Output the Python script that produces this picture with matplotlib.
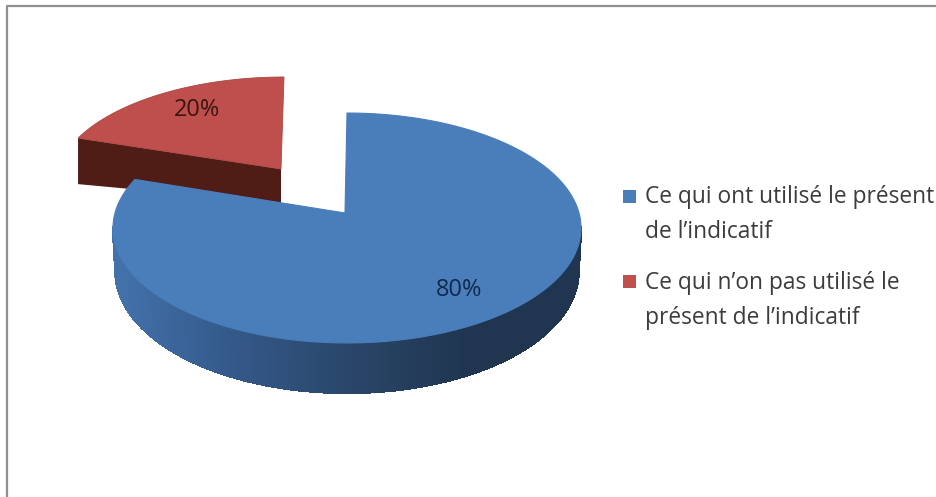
#!/usr/bin/env python3
"""Exploded 3D style pie: present de l'indicatif."""

import numpy as np
import matplotlib
matplotlib.use('Agg')
import matplotlib.pyplot as plt
from matplotlib.collections import PolyCollection
from matplotlib.colors import LinearSegmentedColormap
from matplotlib.patches import Polygon, Rectangle

# Data
labels = ['Ce qui ont utilisé le présent\nde l’indicatif',
          'Ce qui n’on pas utilisé le\nprésent de l’indicatif']
values = [80, 20]

plt.rcParams['font.family'] = ['Open Sans', 'DejaVu Sans']

BLUE = '#4a7ebb'
RED = '#bf4f4c'
MAROON = '#4f1c16'
side_cmap = LinearSegmentedColormap.from_list(
    'side', ['#4372ab', '#34598a', '#2a4669', '#203650', '#1f3550'])


def project(theta, cx, cy, rx, ry, lean=0.0):
    """Perspective ellipse, theta clockwise from the top, in pixels."""
    u, v = np.sin(theta), np.cos(theta)
    b = 0.1304
    x = cx + rx * u / (1 + b * v) + lean * v
    y = cy - ry * v / (1 + b * v)
    return x, y


fig = plt.figure(figsize=(9.36, 4.97), dpi=100)
ax = fig.add_axes([0, 0, 1, 1])
ax.set_xlim(0, 936)
ax.set_ylim(497, 0)
ax.axis('off')

# Frame
ax.plot([6.5, 6.5, 936], [497, 5.5, 5.5], color='#8f8f8f', lw=1.6, zorder=1)

sweep = 2 * np.pi * values[0] / sum(values)

# Red slice, pulled out
red_pars = dict(cx=281, cy=169, rx=223, ry=104, lean=3)
th_red = np.linspace(sweep, 2 * np.pi, 60)
rx_pts, ry_pts = project(th_red, **red_pars)
corner_x, corner_y = rx_pts[0], ry_pts[0]
ax.add_patch(Polygon([[281, 169], [corner_x, corner_y], [corner_x, corner_y + 46], [281, 203]],
                     closed=True, fc=MAROON, ec='none', zorder=2))
ax.add_patch(Polygon(np.column_stack([np.r_[281, rx_pts], np.r_[169, ry_pts]]),
                     closed=True, fc=RED, ec='#a84643', lw=0.6, zorder=3))

# Blue slice, side wall first (front part of the rim only)
blue_pars = dict(cx=347, cy=213, rx=232, ry=113)
th_blue = np.linspace(0, sweep, 720)
bx, by = project(th_blue, **blue_pars)
depth = 42 - 8 * np.cos(th_blue)
lx = blue_pars['cx'] + (bx - blue_pars['cx']) * 0.99
ly = by + depth
front = np.cos(th_blue) < -0.12
quads = [[(bx[i], by[i]), (bx[i + 1], by[i + 1]), (lx[i + 1], ly[i + 1]), (lx[i], ly[i])]
         for i in range(len(bx) - 1) if front[i]]
shade = [side_cmap(np.clip((bx[i] - 113) / 469, 0, 1)) for i in range(len(bx) - 1) if front[i]]
ax.add_collection(PolyCollection(quads, facecolors=shade, edgecolors=shade, linewidths=1.0,
                                 antialiaseds=False, zorder=4))
ax.add_patch(Polygon(np.column_stack([np.r_[345, bx], np.r_[213, by]]),
                     closed=True, fc=BLUE, ec=BLUE, lw=0.8, zorder=5))

# Percent labels
ax.text(197, 110, f'{values[1]}%', ha='center', va='center', fontsize=17, color='#3a1512', zorder=6)
ax.text(459, 290, f'{values[0]}%', ha='center', va='center', fontsize=17, color='#10294d', zorder=6)

# Legend
swatches = [BLUE, '#c0504d']
swatch_y = [190, 275]
text_y = [203, 289]
for lab, col, sy, ty in zip(labels, swatches, swatch_y, text_y):
    ax.add_patch(Rectangle((623, sy), 13, 13, fc=col, ec='none', zorder=6))
    first, second = lab.split('\n')
    ax.text(645, ty, first, ha='left', va='baseline', fontsize=16.4, color='#3c3c3c', zorder=6)
    ax.text(645, ty + 35, second, ha='left', va='baseline', fontsize=16.4, color='#3c3c3c', zorder=6)

plt.savefig('out.png', dpi=100)
